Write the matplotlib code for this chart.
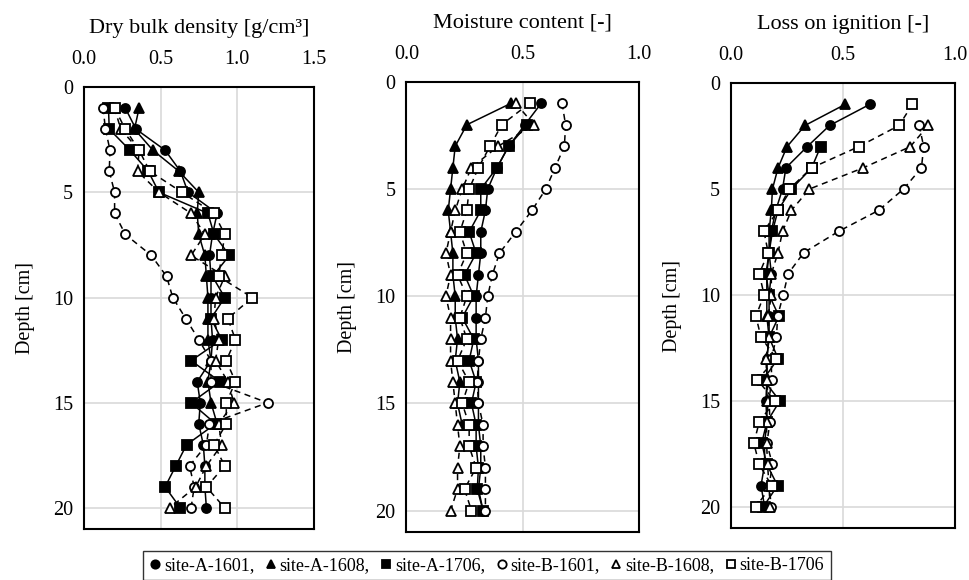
## Soil profiles: bulk density, moisture, loss on ignition vs depth
import numpy as np
import matplotlib
matplotlib.use("Agg")
import matplotlib.pyplot as plt
from matplotlib.lines import Line2D

plt.rcParams['font.family'] = ['Liberation Serif', 'DejaVu Serif']

nan = np.nan
depth = list(range(1, 21))
sites = ["site-A-1601", "site-A-1608", "site-A-1706", "site-B-1601", "site-B-1608", "site-B-1706"]

# dry bulk density [g/cm3]
dbd_a1601 = [0.27, 0.34, 0.53, 0.63, 0.68, 0.87, 0.84, 0.82, 0.83, 0.83, 0.83, 0.84, 0.83, 0.74, 0.76, 0.75, 0.78, 0.79, 0.79, 0.80]
dbd_a1608 = [0.36, 0.33, 0.45, 0.62, 0.75, 0.74, 0.75, 0.79, 0.80, 0.81, 0.81, 0.81, 0.83, 0.81, 0.83, 0.87, nan, nan, nan, nan]
dbd_a1706 = [0.16, 0.165, 0.30, 0.42, 0.49, 0.81, 0.85, 0.95, 0.84, 0.92, 0.83, 0.90, 0.70, 0.89, 0.70, 0.86, 0.67, 0.60, 0.53, 0.63]
dbd_b1601 = [0.125, 0.14, 0.17, 0.165, 0.20, 0.20, 0.27, 0.44, 0.54, 0.58, 0.665, 0.75, 0.83, 0.83, 1.20, 0.82, 0.80, 0.69, 0.72, 0.70]
dbd_b1608 = [0.20, 0.24, 0.36, 0.35, 0.49, 0.70, 0.79, 0.70, 0.92, 0.86, 0.85, 0.88, 0.86, 0.94, 0.98, 0.88, 0.90, 0.80, 0.73, 0.56]
dbd_b1706 = [0.20, 0.27, 0.36, 0.43, 0.64, 0.85, 0.92, 0.90, 0.88, 1.10, 0.94, 0.99, 0.93, 0.99, 0.93, 0.93, 0.85, 0.92, 0.80, 0.92]

# moisture content [-]
mc_a1601 = [0.58, 0.51, 0.44, 0.39, 0.35, 0.34, 0.32, 0.32, 0.31, 0.30, 0.30, 0.30, 0.31, 0.31, 0.31, 0.31, 0.32, 0.32, 0.31, 0.33]
mc_a1608 = [0.45, 0.26, 0.21, 0.20, 0.19, 0.18, 0.19, 0.20, 0.20, 0.21, 0.21, 0.22, 0.21, 0.23, 0.22, 0.24, nan, nan, nan, nan]
mc_a1706 = [nan, 0.52, 0.44, 0.39, 0.32, 0.32, 0.27, 0.30, 0.25, 0.29, 0.24, 0.29, 0.27, 0.30, 0.28, 0.30, 0.30, 0.31, 0.305, 0.33]
mc_b1601 = [0.67, 0.685, 0.68, 0.64, 0.60, 0.54, 0.47, 0.40, 0.37, 0.35, 0.34, 0.32, 0.31, 0.305, 0.31, 0.33, 0.33, 0.34, 0.34, 0.34]
mc_b1608 = [0.47, 0.55, 0.395, 0.28, 0.24, 0.21, 0.19, 0.17, 0.19, 0.17, 0.19, 0.19, 0.19, 0.20, 0.21, 0.22, 0.23, 0.22, 0.22, 0.19]
mc_b1706 = [0.53, 0.41, 0.36, 0.31, 0.27, 0.26, 0.23, 0.26, 0.22, 0.26, 0.23, 0.26, 0.22, 0.27, 0.24, 0.27, 0.27, 0.30, 0.25, 0.28]

# loss on ignition [-]
loi_a1601 = [0.62, 0.44, 0.34, 0.245, 0.23, 0.20, 0.18, 0.17, 0.18, 0.17, 0.17, 0.17, 0.16, 0.16, 0.156, 0.16, 0.15, 0.15, 0.134, 0.15]
loi_a1608 = [0.51, 0.33, 0.25, 0.21, 0.185, 0.18, 0.17, 0.17, 0.16, 0.16, 0.16, 0.17, 0.16, 0.16, 0.16, 0.16, nan, nan, nan, nan]
loi_a1706 = [nan, nan, 0.40, 0.36, 0.27, 0.21, 0.185, 0.17, 0.156, 0.17, 0.214, 0.17, 0.21, 0.144, 0.218, 0.16, 0.137, 0.16, 0.208, 0.144]
loi_b1601 = [nan, 0.84, 0.86, 0.85, 0.77, 0.66, 0.48, 0.325, 0.255, 0.233, 0.208, 0.203, 0.18, 0.181, 0.17, 0.174, 0.16, 0.185, 0.17, 0.18]
loi_b1608 = [nan, 0.88, 0.80, 0.59, 0.35, 0.27, 0.23, 0.21, 0.18, 0.18, 0.166, 0.17, 0.156, 0.16, 0.166, 0.159, 0.159, 0.163, 0.17, 0.174]
loi_b1706 = [0.81, 0.75, 0.57, 0.36, 0.26, 0.21, 0.147, 0.166, 0.126, 0.148, 0.111, 0.134, 0.203, 0.117, 0.196, 0.126, 0.102, 0.126, 0.181, 0.111]

panels = [
    ("Dry bulk density [g/cm³]", [0, 1.5], [0.0, 0.5, 1.0, 1.5],
     [dbd_a1601, dbd_a1608, dbd_a1706, dbd_b1601, dbd_b1608, dbd_b1706]),
    ("Moisture content [-]", [0, 1.0], [0.0, 0.5, 1.0],
     [mc_a1601, mc_a1608, mc_a1706, mc_b1601, mc_b1608, mc_b1706]),
    ("Loss on ignition [-]", [0, 1.0], [0.0, 0.5, 1.0],
     [loi_a1601, loi_a1608, loi_a1706, loi_b1601, loi_b1608, loi_b1706]),
]

markers = ['o', '^', 's', 'o', '^', 's']
fills = ['black', 'black', 'black', 'white', 'white', 'white']
styles = ['-', '-', '-', '--', '--', '--']

boxes = [
    [0.0866, 0.0879, 0.2366, 0.762],
    [0.419, 0.0828, 0.2395, 0.776],
    [0.7536, 0.0897, 0.231, 0.767],
]

fig = plt.figure(figsize=(9.7, 5.8), dpi=100)

for box, (title, xlim, xt, series) in zip(boxes, panels):
    ax = fig.add_axes(box)
    for vals, m, fc, ls in zip(series, markers, fills, styles):
        v = np.array(vals, dtype=float)
        ok = ~np.isnan(v)
        ax.plot(v[ok], np.array(depth)[ok], linestyle=ls, color='black', lw=1.1,
                marker=m, markersize=6.5, markerfacecolor=fc, markeredgecolor='black',
                markeredgewidth=1.3, dashes=(4, 3) if ls == '--' else (None, None))
    ax.set_xlim(xlim)
    ax.set_ylim(21, 0)
    ax.set_xticks(xt)
    ax.set_xticklabels(["%.1f" % t for t in xt])
    ax.set_yticks([0, 5, 10, 15, 20])
    ax.xaxis.tick_top()
    ax.tick_params(length=0, labelsize=14.5)
    ax.tick_params(axis='x', pad=13)
    ax.tick_params(axis='y', pad=8)
    ax.grid(True, color='#d9d9d9', lw=1.2)
    ax.set_axisbelow(True)
    for s in ax.spines.values():
        s.set_linewidth(1.5)
    ax.set_ylabel("Depth [cm]", fontsize=14.5, labelpad=13)
    ax.set_title(title, fontsize=16, pad=39)

handles = []
for name, m, fc, i in zip(sites, markers, fills, range(6)):
    lab = name + ("," if i < 5 else "")
    handles.append(Line2D([], [], linestyle='none', marker=m, markersize=6,
                          markerfacecolor=fc, markeredgecolor='black',
                          markeredgewidth=1.3, label=lab))

leg = fig.legend(handles=handles, loc='center', bbox_to_anchor=(0.502, 0.025), ncol=6,
                 fontsize=13, frameon=True, fancybox=False, edgecolor='black',
                 handlelength=0.6, handletextpad=0.2, columnspacing=0.6,
                 borderpad=0.35)
leg.get_frame().set_linewidth(1.0)

fig.savefig("out.png", dpi=100)
